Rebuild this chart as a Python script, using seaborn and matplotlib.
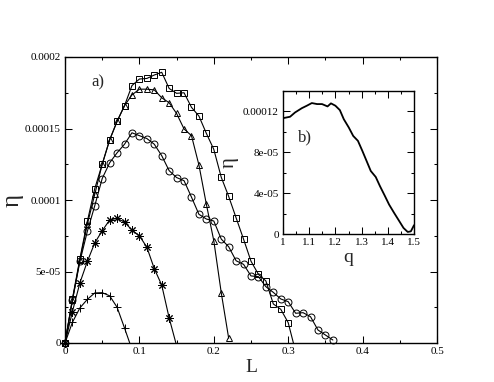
"""
Recreation of the eta(L) curves with the eta(q) inset.
"""
import numpy as np
import pandas as pd
import matplotlib
matplotlib.use("Agg")
import matplotlib.pyplot as plt
from matplotlib.ticker import FixedLocator, MultipleLocator
import seaborn as sns

sns.set_style("ticks")
plt.rcParams["font.family"] = ["Liberation Serif", "DejaVu Serif"]
plt.rcParams["mathtext.fontset"] = "stix"

# Series of panel a): L values and eta values (in units of 1e-5)
L_plus = [0, 0.01, 0.02, 0.03, 0.04, 0.05, 0.06, 0.07, 0.08, 0.087]
eta_plus = [0, 1.45, 2.45, 3.05, 3.5, 3.52, 3.3, 2.5, 1.05, 0]

L_star = [0, 0.01, 0.02, 0.03, 0.04, 0.05, 0.06, 0.07, 0.08, 0.09, 0.10,
          0.11, 0.12, 0.13, 0.14, 0.149]
eta_star = [0, 2.2, 4.2, 5.7, 7.0, 7.85, 8.6, 8.72, 8.45, 7.9, 7.5,
            6.7, 5.2, 4.05, 1.75, 0]

L_circ = [0, 0.01, 0.02, 0.03, 0.04, 0.05, 0.06, 0.07, 0.08, 0.09, 0.10,
          0.11, 0.12, 0.13, 0.14, 0.15, 0.16, 0.17, 0.18, 0.19, 0.20,
          0.21, 0.22, 0.23, 0.24, 0.25, 0.26, 0.27, 0.28, 0.29, 0.30,
          0.31, 0.32, 0.33, 0.34, 0.35, 0.36]
eta_circ = [0, 3.0, 5.7, 7.8, 9.6, 11.5, 12.6, 13.3, 13.9, 14.7, 14.5,
            14.3, 13.9, 13.1, 12.05, 11.57, 11.35, 10.2, 9.0, 8.67, 8.53,
            7.27, 6.73, 5.75, 5.5, 4.69, 4.64, 3.94, 3.54, 3.08, 2.89,
            2.08, 2.12, 1.84, 0.91, 0.56, 0.21]

L_tri = [0, 0.01, 0.02, 0.03, 0.04, 0.05, 0.06, 0.07, 0.08, 0.09, 0.10,
         0.11, 0.12, 0.13, 0.14, 0.15, 0.16, 0.17, 0.18, 0.19, 0.20,
         0.21, 0.22]
eta_tri = [0, 3.0, 5.8, 8.3, 10.4, 12.5, 14.2, 15.5, 16.6, 17.35, 17.75,
           17.75, 17.7, 17.15, 16.8, 16.05, 14.97, 14.5, 12.45, 9.7, 7.15,
           3.52, 0.33]

L_sq = [0, 0.01, 0.02, 0.03, 0.04, 0.05, 0.06, 0.07, 0.08, 0.09, 0.10,
        0.11, 0.12, 0.13, 0.14, 0.15, 0.16, 0.17, 0.18, 0.19, 0.20,
        0.21, 0.22, 0.23, 0.24, 0.25, 0.26, 0.27, 0.28, 0.29, 0.30, 0.307]
eta_sq = [0, 3.1, 5.9, 8.5, 10.8, 12.5, 14.2, 15.5, 16.6, 18.0, 18.46,
          18.5, 18.74, 18.93, 17.8, 17.46, 17.5, 16.48, 15.87, 14.66, 13.54,
          11.59, 10.25, 8.75, 7.26, 5.72, 4.8, 4.34, 2.73, 2.36, 1.42, 0]

# Panel b): eta (1e-5) as function of q
q_vals = [1.0, 1.027, 1.046, 1.072, 1.091, 1.11, 1.13, 1.149, 1.17, 1.183,
          1.2, 1.217, 1.232, 1.251, 1.268, 1.286, 1.303, 1.319, 1.335, 1.354,
          1.37, 1.388, 1.405, 1.424, 1.444, 1.46, 1.476, 1.488, 1.5]
eta_q = [11.34, 11.48, 11.9, 12.32, 12.56, 12.82, 12.72, 12.72, 12.49, 12.79,
         12.56, 12.13, 11.24, 10.43, 9.6, 9.12, 8.13, 7.15, 6.17, 5.58,
         4.69, 3.77, 2.88, 2.07, 1.25, 0.59, 0.2, 0.26, 0.86]

main_xticks = [0, 0.1, 0.2, 0.3, 0.4, 0.5]
main_xlabels = ["0", "0.1", "0.2", "0.3", "0.4", "0.5"]
main_yticks = [0, 5e-5, 1e-4, 1.5e-4, 2e-4]
main_ylabels = ["0", "5e-05", "0.0001", "0.00015", "0.0002"]
ins_xticks = [1, 1.1, 1.2, 1.3, 1.4, 1.5]
ins_xlabels = ["1", "1.1", "1.2", "1.3", "1.4", "1.5"]
ins_yticks = [0, 4e-5, 8e-5, 1.2e-4]
ins_ylabels = ["0", "4e-05", "8e-05", "0.00012"]


def style_axes(ax, fs):
    for s in ax.spines.values():
        s.set_linewidth(1.0)
        s.set_color("black")
    ax.tick_params(which="both", direction="in", top=True, right=True,
                   width=0.75, colors="black", labelsize=fs, pad=3)
    ax.tick_params(which="major", length=5)
    ax.tick_params(which="minor", length=2.5)


fig = plt.figure(figsize=(4.94, 3.82), dpi=100)
ax = fig.add_axes([65 / 494, 39 / 382, 372 / 494, 286 / 382])

series = [
    (L_plus, eta_plus, "+", 6, True),
    (L_star, eta_star, (8, 2, 0), 6, True),
    (L_circ, eta_circ, "o", 5, False),
    (L_tri, eta_tri, "^", 5, False),
    (L_sq, eta_sq, "s", 5, True),
]
for L, eta, mk, ms, open_end in series:
    df = pd.DataFrame({"L": L, "eta": np.array(eta) * 1e-5})
    every = slice(0, len(df) - 1) if open_end else None
    sns.lineplot(data=df, x="L", y="eta", ax=ax, color="black", lw=0.8,
                 marker=mk, markersize=ms, markerfacecolor="none",
                 markeredgecolor="black", markeredgewidth=0.7,
                 markevery=every, sort=False, clip_on=False)

ax.set_xlim(0, 0.5)
ax.set_ylim(0, 2e-4)
ax.xaxis.set_major_locator(FixedLocator(main_xticks))
ax.set_xticklabels(main_xlabels)
ax.xaxis.set_minor_locator(MultipleLocator(0.05))
ax.yaxis.set_major_locator(FixedLocator(main_yticks))
ax.set_yticklabels(main_ylabels)
ax.yaxis.set_minor_locator(MultipleLocator(2.5e-5))
style_axes(ax, 8)
ax.set_xlabel("L", fontsize=14, labelpad=2)
ax.set_ylabel("η", fontsize=18, labelpad=1)
ax.text(0.036, 1.82e-4, "a)", fontsize=12, va="center", ha="left")

# Inset b)
axi = fig.add_axes([283 / 494, 148 / 382, 131 / 494, 143 / 382])
dfq = pd.DataFrame({"q": q_vals, "eta": np.array(eta_q) * 1e-5})
sns.lineplot(data=dfq, x="q", y="eta", ax=axi, color="black", lw=1.3,
             sort=False)
axi.set_xlim(1, 1.5)
axi.set_ylim(0, 1.4e-4)
axi.xaxis.set_major_locator(FixedLocator(ins_xticks))
axi.set_xticklabels(ins_xlabels)
axi.xaxis.set_minor_locator(MultipleLocator(0.05))
axi.yaxis.set_major_locator(FixedLocator(ins_yticks))
axi.set_yticklabels(ins_ylabels)
axi.yaxis.set_minor_locator(MultipleLocator(2e-5))
style_axes(axi, 8)
axi.set_xlabel("q", fontsize=14, labelpad=1)
axi.set_ylabel("η", fontsize=15, labelpad=3)
axi.text(1.058, 9.5e-5, "b)", fontsize=12, va="center", ha="left")

fig.savefig("out.png", dpi=100)
